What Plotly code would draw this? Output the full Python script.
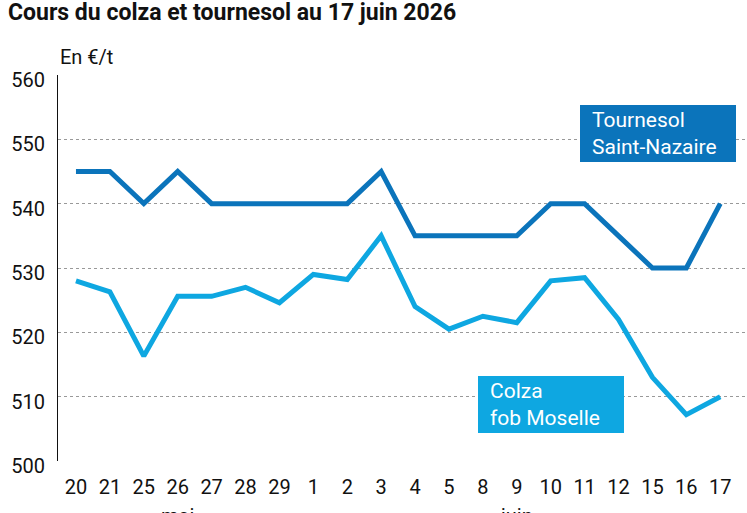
import plotly.graph_objects as go

days = ["20", "21", "25", "26", "27", "28", "29", "1", "2", "3", "4", "5", "8", "9", "10", "11", "12", "15", "16", "17"]
tournesol = [545, 545, 540, 545, 540, 540, 540, 540, 540, 545, 535, 535, 535, 535, 540, 540, 535, 530, 530, 540]
colza = [528, 526.3, 516.3, 525.6, 525.6, 527, 524.6, 529, 528.2, 535, 524, 520.5, 522.5, 521.5, 528, 528.5, 522, 513, 507.2, 510]
yticks = [500, 510, 520, 530, 540, 550, 560]

FONT = "Liberation Sans Narrow, Roboto, sans-serif"
C_T = "#0b74bb"
C_C = "#0ea7e1"

W, H = 747, 513
L, R, T, B = 58, 2, 75, 52
PW, PH = W - L - R, H - T - B


def px(xp):
    return (xp - L) / PW


def py(yp):
    return (H - B - yp) / PH


x = list(range(len(days)))

fig = go.Figure()
fig.add_trace(go.Scatter(x=x, y=tournesol, mode="lines", line=dict(color=C_T, width=5), hoverinfo="skip"))
fig.add_trace(go.Scatter(x=x, y=colza, mode="lines", line=dict(color=C_C, width=5), hoverinfo="skip"))

fig.update_layout(
    width=W, height=H,
    margin=dict(l=L, r=R, t=T, b=B),
    paper_bgcolor="white", plot_bgcolor="white",
    showlegend=False,
    font=dict(family=FONT, size=19, color="#111"),
    title=dict(text="<b>Cours du colza et tournesol au 17 juin 2026</b>",
               x=8/W, xanchor="left", xref="container",
               y=1-12/H, yanchor="middle", yref="container",
               font=dict(family=FONT, size=23, color="#111")),
)
fig.update_xaxes(
    range=[-0.53, 19.73], tickmode="array", tickvals=x, ticktext=days,
    showgrid=False, zeroline=False, showline=False, ticks="",
    ticklabelstandoff=12,
    tickfont=dict(family=FONT, size=20, color="#111"),
)
fig.update_yaxes(
    range=[500, 560], tickmode="array", tickvals=yticks,
    showgrid=True, gridcolor="#999", griddash="dot", gridwidth=1,
    zeroline=False, showline=True, linecolor="#111", linewidth=1, ticks="",
    ticklabelstandoff=8, ticklabelshift=5,
    tickfont=dict(family=FONT, size=20, color="#111"),
)

fig.add_annotation(text="En €/t", xref="paper", yref="paper", x=0, y=py(43),
                   xanchor="left", yanchor="top", showarrow=False,
                   font=dict(family=FONT, size=20, color="#111"))

# label boxes
fig.add_shape(type="rect", xref="paper", yref="paper", x0=px(580), x1=px(736), y0=py(162), y1=py(105),
              fillcolor=C_T, line=dict(width=0), layer="above")
fig.add_annotation(text="Tournesol<br>Saint-Nazaire", xref="paper", yref="paper",
                   x=px(590), y=py(133.5), xanchor="left", yanchor="middle",
                   align="left", showarrow=False,
                   font=dict(family="Roboto, sans-serif", size=21, color="white"))
fig.add_shape(type="rect", xref="paper", yref="paper", x0=px(478), x1=px(624), y0=py(433), y1=py(376),
              fillcolor=C_C, line=dict(width=0), layer="above")
fig.add_annotation(text="Colza<br>fob Moselle", xref="paper", yref="paper",
                   x=px(488), y=py(404.5), xanchor="left", yanchor="middle",
                   align="left", showarrow=False,
                   font=dict(family="Roboto, sans-serif", size=21, color="white"))

fig.add_annotation(text="mai", xref="x", yref="paper", x=3, y=py(502),
                   xanchor="center", yanchor="top", showarrow=False,
                   font=dict(family=FONT, size=20, color="#111"))
fig.add_annotation(text="juin", xref="x", yref="paper", x=13, y=py(502),
                   xanchor="center", yanchor="top", showarrow=False,
                   font=dict(family=FONT, size=20, color="#111"))

fig.write_html("out.html")
